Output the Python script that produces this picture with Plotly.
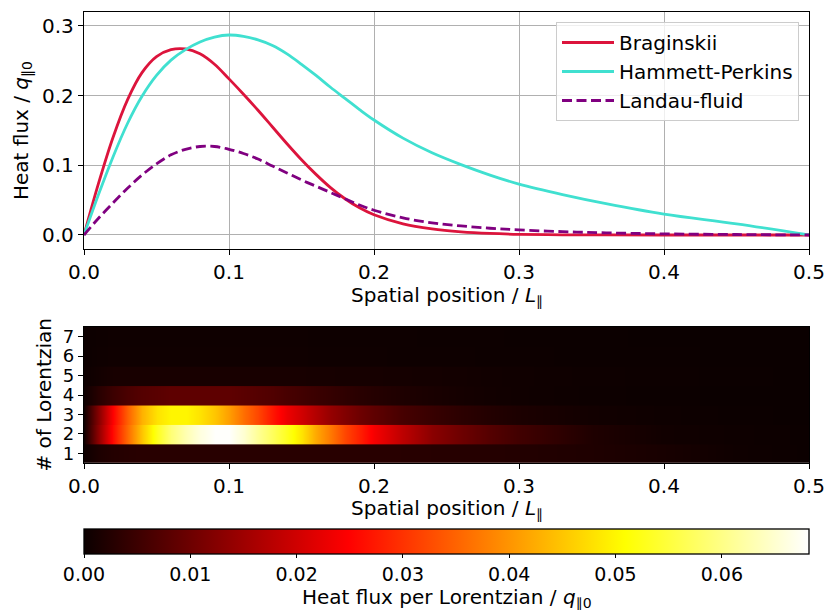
import plotly.graph_objects as go

W, H = 825, 610

# ---------------- data ----------------
pos = [0.00, 0.01, 0.02, 0.03, 0.04, 0.05, 0.06, 0.07, 0.08, 0.09, 0.10,
       0.11, 0.12, 0.13, 0.14, 0.15, 0.16, 0.17, 0.18, 0.19, 0.20,
       0.22, 0.24, 0.26, 0.28, 0.30, 0.33, 0.36, 0.40, 0.45, 0.50]

braginskii = [0.0, 0.074, 0.140, 0.194, 0.233, 0.256, 0.266, 0.267, 0.260, 0.245, 0.224,
              0.202, 0.179, 0.155, 0.131, 0.108, 0.087, 0.068, 0.052, 0.039, 0.029,
              0.016, 0.0088, 0.0046, 0.0022, 0.001, 0.0003, 0.0001, 0.0, 0.0, 0.0]

hammett_perkins = [0.0, 0.058, 0.112, 0.160, 0.199, 0.229, 0.251, 0.266, 0.277, 0.284, 0.287,
                   0.285, 0.280, 0.272, 0.260, 0.245, 0.229, 0.212, 0.196, 0.180, 0.165,
                   0.139, 0.118, 0.101, 0.086, 0.073, 0.058, 0.045, 0.030, 0.016, 0.0]

landau_fluid = [0.0, 0.024, 0.046, 0.067, 0.086, 0.102, 0.115, 0.123, 0.127, 0.127, 0.123,
                0.117, 0.109, 0.099, 0.089, 0.079, 0.070, 0.061, 0.052, 0.043, 0.0355,
                0.0245, 0.0175, 0.0130, 0.0097, 0.0073, 0.0048, 0.0031, 0.0016, 0.0007, 0.0]

# heat flux per Lorentzian (rows 1..7)
hx = [0.00, 0.01, 0.02, 0.03, 0.04, 0.05, 0.06, 0.07, 0.08, 0.09, 0.10,
      0.11, 0.12, 0.13, 0.14, 0.15, 0.16, 0.17, 0.18, 0.19, 0.20,
      0.22, 0.24, 0.26, 0.28, 0.30, 0.35, 0.40, 0.45, 0.50]
lorentzian_ids = [1, 2, 3, 4, 5, 6, 7]
lor1 = [0.0003, 0.0018, 0.0025, 0.0028, 0.003, 0.003, 0.003, 0.003, 0.003, 0.003, 0.003,
        0.003, 0.003, 0.003, 0.003, 0.003, 0.003, 0.003, 0.003, 0.003, 0.003,
        0.0029, 0.0028, 0.0027, 0.0026, 0.0024, 0.002, 0.0013, 0.0004, 0.0001]
lor2 = [0.0005, 0.014, 0.026, 0.036, 0.045, 0.053, 0.059, 0.063, 0.066, 0.068, 0.068,
        0.065, 0.061, 0.057, 0.053, 0.048, 0.042, 0.037, 0.032, 0.028, 0.024,
        0.018, 0.013, 0.010, 0.0075, 0.0055, 0.002, 0.0006, 0.0003, 0.0001]
lor3 = [0.0005, 0.013, 0.025, 0.035, 0.043, 0.048, 0.050, 0.050, 0.048, 0.045, 0.041,
        0.036, 0.032, 0.027, 0.023, 0.020, 0.017, 0.014, 0.012, 0.010, 0.0085,
        0.006, 0.0045, 0.0033, 0.0024, 0.0017, 0.0007, 0.0003, 0.0001, 0.0]
lor4 = [0.0003, 0.003, 0.005, 0.0065, 0.0075, 0.008, 0.0085, 0.0085, 0.0085, 0.0085, 0.0085,
        0.008, 0.0075, 0.007, 0.0062, 0.0055, 0.0048, 0.0042, 0.0036, 0.003, 0.0026,
        0.0019, 0.0014, 0.001, 0.0007, 0.0005, 0.0002, 0.0001, 0.0, 0.0]
lor5 = [0.0002, 0.0008, 0.0013, 0.0013, 0.0013, 0.0013, 0.0013, 0.0013, 0.0013, 0.0013, 0.0013,
        0.0013, 0.0013, 0.0013, 0.0013, 0.0013, 0.0012, 0.0012, 0.0011, 0.0011, 0.0011,
        0.001, 0.0009, 0.0008, 0.0006, 0.0005, 0.0003, 0.0002, 0.0001, 0.0]
lor6 = [0.0001, 0.0004, 0.0005, 0.0005, 0.0005, 0.0005, 0.0005, 0.0005, 0.0005, 0.0005, 0.0005,
        0.0005, 0.0005, 0.0005, 0.0005, 0.0005, 0.0004, 0.0004, 0.0004, 0.0004, 0.0004,
        0.0003, 0.0003, 0.0003, 0.0002, 0.0002, 0.0001, 0.0001, 0.0, 0.0]
lor7 = [0.0001, 0.0003, 0.0004, 0.0004, 0.0004, 0.0004, 0.0004, 0.0004, 0.0004, 0.0004, 0.0004,
        0.0004, 0.0004, 0.0004, 0.0004, 0.0004, 0.0003, 0.0003, 0.0003, 0.0003, 0.0003,
        0.0003, 0.0002, 0.0002, 0.0002, 0.0001, 0.0001, 0.0, 0.0, 0.0]
lor_rows = [lor1, lor2, lor3, lor4, lor5, lor6, lor7]

x_ticks = [0.0, 0.1, 0.2, 0.3, 0.4, 0.5]
y_ticks = [0.0, 0.1, 0.2, 0.3]
cb_ticks = [0.00, 0.01, 0.02, 0.03, 0.04, 0.05, 0.06]
cb_max = 0.0682

# ---------------- figure ----------------
FONT = "DejaVu Sans"
FS = 20
fig = go.Figure()

fig.add_trace(go.Scatter(x=pos, y=braginskii, mode="lines", name="Braginskii",
                         line=dict(color="crimson", width=2.8, shape="spline", smoothing=1.0)))
fig.add_trace(go.Scatter(x=pos, y=hammett_perkins, mode="lines", name="Hammett-Perkins",
                         line=dict(color="turquoise", width=2.8, shape="spline", smoothing=1.0)))
fig.add_trace(go.Scatter(x=pos, y=landau_fluid, mode="lines", name="Landau-fluid",
                         line=dict(color="purple", width=2.8, dash="10px,4.5px",
                                   shape="spline", smoothing=1.0)))

for rid, row in zip(lorentzian_ids, lor_rows):
    fig.add_trace(go.Heatmap(x=hx, y=[rid - 0.27, rid + 0.27], z=[row, row],
                             coloraxis="coloraxis", zsmooth="best", showlegend=False,
                             xaxis="x2", yaxis="y2", hoverinfo="skip"))

hot = [[0.0, "rgb(11,0,0)"], [0.365079, "rgb(255,0,0)"],
       [0.746032, "rgb(255,255,0)"], [1.0, "rgb(255,255,255)"]]

x0, x1 = 84 / W, 809 / W
axis_common = dict(showline=True, mirror=True, linecolor="black", linewidth=1.3,
                   ticks="outside", ticklen=5, tickwidth=1.3, tickcolor="black",
                   zeroline=False, tickfont=dict(family=FONT, size=FS, color="black"))

fig.update_layout(
    width=W, height=H,
    margin=dict(l=0, r=0, t=0, b=0, autoexpand=False),
    paper_bgcolor="white", plot_bgcolor="white",
    font=dict(family=FONT, size=FS, color="black"),
    xaxis=dict(domain=[x0, x1], range=[0, 0.5], anchor="y", tickvals=x_ticks,
               ticktext=[f"{v:.1f}" for v in x_ticks],
               showgrid=True, gridcolor="#b0b0b0", gridwidth=1.1, **axis_common),
    yaxis=dict(domain=[1 - 249 / H, 1 - 12 / H], range=[-0.0201, 0.32], anchor="x",
               tickvals=y_ticks, ticktext=[f"{v:.1f}" for v in y_ticks],
               showgrid=True, gridcolor="#b0b0b0", gridwidth=1.1, **axis_common),
    xaxis2=dict(domain=[x0, x1], range=[0, 0.5], anchor="y2", tickvals=x_ticks,
                ticktext=[f"{v:.1f}" for v in x_ticks], showgrid=False, **axis_common),
    yaxis2=dict(domain=[1 - 463 / H, 1 - 327 / H], range=[0.5, 7.5], anchor="x2",
                tickvals=lorentzian_ids, ticktext=[str(v) for v in lorentzian_ids],
                showgrid=False,
                **{**axis_common, "tickfont": dict(family=FONT, size=18, color="black")}),
    coloraxis=dict(
        colorscale=hot, cmin=0, cmax=cb_max,
        colorbar=dict(orientation="h", x=446.5 / W, xanchor="center",
                      y=1 - 529 / H, yanchor="top", len=725, lenmode="pixels",
                      thickness=24.5, thicknessmode="pixels", xpad=0, ypad=0,
                      outlinewidth=1.3, outlinecolor="black",
                      ticks="outside", ticklen=4, tickwidth=1.3, tickcolor="black",
                      tickvals=cb_ticks, ticktext=[f"{v:.2f}" for v in cb_ticks],
                      tickfont=dict(family=FONT, size=19, color="black")),
    ),
    legend=dict(x=799 / W, xanchor="right", y=1 - 22 / H, yanchor="top",
                bordercolor="#cccccc", borderwidth=1, bgcolor="rgba(255,255,255,0.8)",
                itemwidth=52,
                font=dict(family=FONT, size=FS, color="black")),
    showlegend=True,
)

ann = dict(xref="paper", yref="paper", showarrow=False,
           font=dict(family=FONT, size=FS, color="black"))
fig.add_annotation(text="Heat flux / <i>q</i><sub>∥0</sub>", x=21.5 / W, y=1 - 130.5 / H,
                   textangle=-90, xanchor="center", yanchor="middle", **ann)
fig.add_annotation(text="Spatial position / <i>L</i><sub>∥</sub>", x=446.5 / W, y=1 - 296 / H,
                   xanchor="center", yanchor="middle", **ann)
fig.add_annotation(text="# of Lorentzian", x=43.5 / W, y=1 - 395 / H,
                   textangle=-90, xanchor="center", yanchor="middle", **ann)
fig.add_annotation(text="Spatial position / <i>L</i><sub>∥</sub>", x=446.5 / W, y=1 - 509 / H,
                   xanchor="center", yanchor="middle", **ann)
fig.add_annotation(text="Heat flux per Lorentzian / <i>q</i><sub>∥0</sub>", x=446.5 / W,
                   y=1 - 597.5 / H, xanchor="center", yanchor="middle", **ann)

fig.write_html("out.html")
